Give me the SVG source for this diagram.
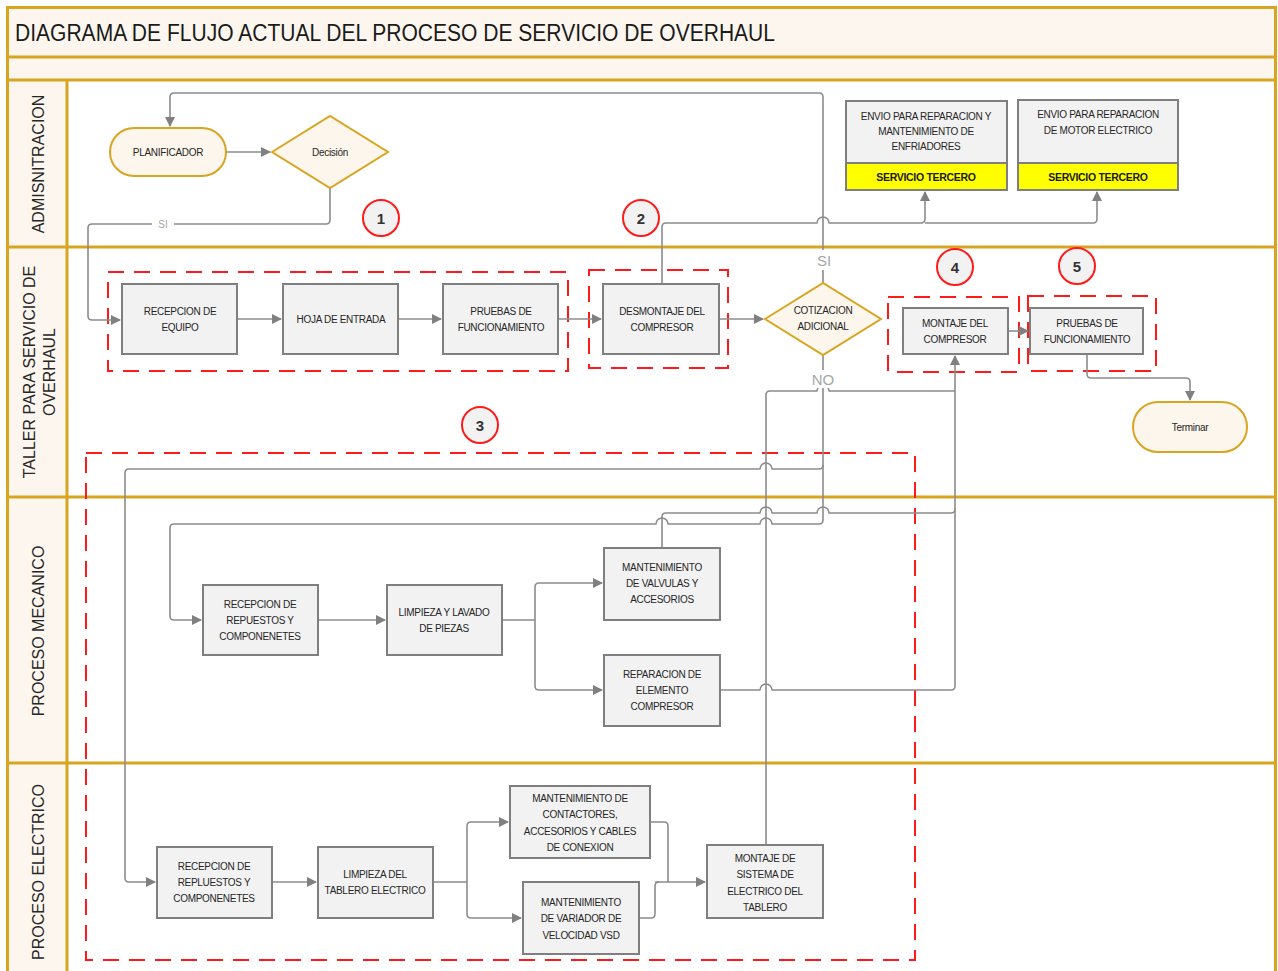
<svg xmlns="http://www.w3.org/2000/svg" width="1278" height="971" viewBox="0 0 1278 971">
<defs>
<marker id="ah" markerUnits="userSpaceOnUse" markerWidth="10" markerHeight="10" viewBox="0 0 10 10" refX="9" refY="5" orient="auto"><path d="M0,0 L10,5 L0,10 z" fill="#808080"/></marker>
</defs>
<style>
.lane{stroke:#d8a520;stroke-width:3;fill:none}
.band{fill:#fdf6ee}
.proc{fill:#f2f2f2;stroke:#7f7f7f;stroke-width:2}
.term{fill:#fdf6ec;stroke:#d8a520;stroke-width:2}
.dec{fill:#fdf6ec;stroke:#d8a520;stroke-width:2}
.dash{fill:none;stroke:#ff1a1a;stroke-width:2;stroke-dasharray:16 10}
.con{fill:none;stroke:#8c8c8c;stroke-width:1.6;stroke-linejoin:round}
.arr{marker-end:url(#ah)}
.t{font-family:"Liberation Sans",Arial,sans-serif;font-size:10px;fill:#262626;text-anchor:middle;letter-spacing:-0.3px}
.lt{font-family:"Liberation Sans",Arial,sans-serif;font-size:16px;fill:#262626;text-anchor:middle}
.num{font-family:"Liberation Sans",Arial,sans-serif;font-size:15px;font-weight:bold;fill:#333;text-anchor:middle}
.cir{fill:#f2f2f2;stroke:#ff1a1a;stroke-width:2}
.lbl{font-family:"Liberation Sans",Arial,sans-serif;font-size:15px;fill:#a6a6a6;text-anchor:middle}
.yel{fill:#ffff00;stroke:#7f7f7f;stroke-width:2}
.bt{font-family:"Liberation Sans",Arial,sans-serif;font-size:10.5px;font-weight:bold;fill:#1a1a1a;text-anchor:middle;letter-spacing:-0.3px}
</style>

<g id="frame">
<rect x="7" y="7" width="1269" height="73" class="band"/>
<rect x="7" y="80" width="60" height="891" class="band"/>
<rect x="7.5" y="7.5" width="1268" height="970" class="lane"/>
<line x1="7" y1="57" x2="1276" y2="57" class="lane"/>
<line x1="7" y1="80" x2="1276" y2="80" class="lane"/>
<line x1="7" y1="247" x2="1276" y2="247" class="lane"/>
<line x1="7" y1="497" x2="1276" y2="497" class="lane"/>
<line x1="7" y1="763" x2="1276" y2="763" class="lane"/>
<line x1="67" y1="80" x2="67" y2="971" class="lane"/>
<text x="15" y="41" font-family="'Liberation Sans',Arial,sans-serif" font-size="23" fill="#1a1a1a" textLength="760" lengthAdjust="spacingAndGlyphs">DIAGRAMA DE FLUJO ACTUAL DEL PROCESO DE SERVICIO DE OVERHAUL</text>
<text class="lt" transform="translate(44,164) rotate(-90)">ADMISNITRACION</text>
<text class="lt" transform="translate(35,372) rotate(-90)">TALLER PARA SERVICIO DE</text>
<text class="lt" transform="translate(55,372) rotate(-90)">OVERHAUL</text>
<text class="lt" transform="translate(44,631) rotate(-90)">PROCESO MECANICO</text>
<text class="lt" transform="translate(44,872) rotate(-90)">PROCESO ELECTRICO</text>
</g>

<g id="groups">
<rect x="108" y="272" width="460" height="99" class="dash"/>
<rect x="589" y="270" width="139" height="98" class="dash"/>
<rect x="888" y="297" width="131" height="75" class="dash"/>
<rect x="1028" y="296" width="128" height="75" class="dash"/>
<rect x="86" y="453" width="829" height="507" class="dash"/>
</g>

<g id="connectors">
<path class="con arr" d="M226,152 H270"/>
<path class="con arr" d="M330,188 V220 Q330,224 326,224 H92 Q88,224 88,228 V316 Q88,320 92,320 H120"/>
<path class="con arr" d="M237,319 H281"/>
<path class="con arr" d="M398,319 H441"/>
<path class="con arr" d="M558,319 H601"/>
<path class="con arr" d="M719,319 H763"/>
<path class="con arr" d="M823,283 V97 Q823,93 819,93 H174 Q170,93 170,97 V126"/>
<path class="con arr" d="M662,284 V227 Q662,223 666,223 H817 A6,6 0 0 1 829,223 H921 Q925,223 925,219 V192"/>
<path class="con arr" d="M925,223 H1093 Q1097,223 1097,219 V192"/>
<path class="con arr" d="M1008,331 H1028"/>
<path class="con arr" d="M1087,354 V374 Q1087,378 1091,378 H1186 Q1190,378 1190,382 V400"/>
<path class="con" d="M823,355 V520 Q823,524 819,524 H772 A6,6 0 0 0 760,524 H668 A6,6 0 0 0 656,524 H174 Q170,524 170,528 V616 Q170,620 174,620 H201" marker-end="url(#ah)"/>
<path class="con arr" d="M823,465 Q823,469 819,469 H772 A6,6 0 0 0 760,469 H129 Q125,469 125,473 V878 Q125,882 129,882 H155"/>
<path class="con" d="M662,548 V517 Q662,513 666,513 H760 A6,6 0 0 1 772,513 H817 A6,6 0 0 1 829,513 H951 Q955,513 955,509"/>
<path class="con arr" d="M720,690 H760 A6,6 0 0 1 772,690 H951 Q955,690 955,686 V356"/>
<path class="con" d="M766,845 V395 Q766,391 770,391 H817 A6,6 0 0 1 829,391 H955"/>
<path class="con arr" d="M318,620 H385"/>
<path class="con arr" d="M502,620 H535 V587 Q535,583 539,583 H602"/>
<path class="con arr" d="M535,620 V686 Q535,690 539,690 H602"/>
<path class="con arr" d="M272,882 H316"/>
<path class="con arr" d="M433,882 H467 V826 Q467,822 471,822 H508"/>
<path class="con arr" d="M467,882 V914 Q467,918 471,918 H521"/>
<path class="con" d="M650,822 H664 Q668,822 668,826 V882"/>
<path class="con" d="M639,918 H651 Q655,918 655,914 V886 Q655,882 659,882"/>
<path class="con arr" d="M655,882 H705"/>
<rect x="152" y="217" width="22" height="14" fill="#ffffff"/>
<text x="163" y="228" class="lbl" font-size="10" style="font-size:10px">SI</text>
<rect x="811" y="250" width="24" height="20" fill="#ffffff"/>
<text x="824" y="266" class="lbl">SI</text>
<rect x="809" y="370" width="28" height="18" fill="#ffffff"/>
<text x="823" y="385" class="lbl">NO</text>
</g>

<g id="n_planificador">
<rect x="110" y="128" width="116" height="48" rx="24" class="term"/>
<text x="168" y="155.5" class="t">PLANIFICADOR</text>
</g>
<g id="n_decision">
<polygon points="272,152 330,116 388,152 330,188" class="dec"/>
<text x="330" y="155.5" class="t">Decisión</text>
</g>
<g id="n_envio1">
<rect x="846" y="101" width="161" height="62" class="proc"/>
<rect x="846" y="163" width="161" height="27" class="yel"/>
<text x="926" y="120" class="t">ENVIO PARA REPARACION Y</text>
<text x="926" y="135" class="t">MANTENIMIENTO DE</text>
<text x="926" y="150" class="t">ENFRIADORES</text>
<text x="926" y="181" class="bt">SERVICIO TERCERO</text>
</g>
<g id="n_envio2">
<rect x="1018" y="100" width="160" height="63" class="proc"/>
<rect x="1018" y="163" width="160" height="27" class="yel"/>
<text x="1098" y="118" class="t">ENVIO PARA REPARACION</text>
<text x="1098" y="134" class="t">DE MOTOR ELECTRICO</text>
<text x="1098" y="181" class="bt">SERVICIO TERCERO</text>
</g>
<g id="c1"><circle cx="381" cy="218" r="18" class="cir"/><text x="381" y="223.5" class="num">1</text></g>
<g id="c2"><circle cx="641" cy="218" r="18" class="cir"/><text x="641" y="223.5" class="num">2</text></g>
<g id="c3"><circle cx="480" cy="425" r="18" class="cir"/><text x="480" y="430.5" class="num">3</text></g>
<g id="c4"><circle cx="955" cy="267" r="18" class="cir"/><text x="955" y="272.5" class="num">4</text></g>
<g id="c5"><circle cx="1077" cy="266" r="18" class="cir"/><text x="1077" y="271.5" class="num">5</text></g>

<g id="n_recepcion_equipo">
<rect x="122" y="284" width="115" height="70" class="proc"/>
<text x="180" y="315" class="t">RECEPCION DE</text>
<text x="180" y="331" class="t">EQUIPO</text>
</g>
<g id="n_hoja">
<rect x="283" y="284" width="115" height="70" class="proc"/>
<text x="341" y="322.5" class="t">HOJA DE ENTRADA</text>
</g>
<g id="n_pruebas1">
<rect x="443" y="284" width="115" height="70" class="proc"/>
<text x="501" y="315" class="t">PRUEBAS DE</text>
<text x="501" y="331" class="t">FUNCIONAMIENTO</text>
</g>
<g id="n_desmontaje">
<rect x="603" y="284" width="116" height="70" class="proc"/>
<text x="662" y="315" class="t">DESMONTAJE DEL</text>
<text x="662" y="331" class="t">COMPRESOR</text>
</g>
<g id="n_cotizacion">
<polygon points="765,319 823,283 881,319 823,355" class="dec"/>
<text x="823" y="314" class="t">COTIZACION</text>
<text x="823" y="330" class="t">ADICIONAL</text>
</g>
<g id="n_montaje">
<rect x="903" y="308" width="105" height="46" class="proc"/>
<text x="955" y="327" class="t">MONTAJE DEL</text>
<text x="955" y="343" class="t">COMPRESOR</text>
</g>
<g id="n_pruebas2">
<rect x="1030" y="308" width="113" height="46" class="proc"/>
<text x="1087" y="327" class="t">PRUEBAS DE</text>
<text x="1087" y="343" class="t">FUNCIONAMIENTO</text>
</g>
<g id="n_terminar">
<rect x="1133" y="402" width="114" height="50" rx="25" class="term"/>
<text x="1190" y="430.5" class="t">Terminar</text>
</g>

<g id="n_rec_mec">
<rect x="203" y="585" width="115" height="70" class="proc"/>
<text x="260" y="608" class="t">RECEPCION DE</text>
<text x="260" y="624" class="t">REPUESTOS Y</text>
<text x="260" y="640" class="t">COMPONENETES</text>
</g>
<g id="n_limpieza">
<rect x="387" y="585" width="115" height="70" class="proc"/>
<text x="444" y="616" class="t">LIMPIEZA Y LAVADO</text>
<text x="444" y="632" class="t">DE PIEZAS</text>
</g>
<g id="n_valvulas">
<rect x="604" y="548" width="116" height="72" class="proc"/>
<text x="662" y="571" class="t">MANTENIMIENTO</text>
<text x="662" y="587" class="t">DE VALVULAS Y</text>
<text x="662" y="603" class="t">ACCESORIOS</text>
</g>
<g id="n_reparacion">
<rect x="604" y="655" width="116" height="71" class="proc"/>
<text x="662" y="678" class="t">REPARACION DE</text>
<text x="662" y="694" class="t">ELEMENTO</text>
<text x="662" y="710" class="t">COMPRESOR</text>
</g>

<g id="n_rec_ele">
<rect x="157" y="847" width="115" height="71" class="proc"/>
<text x="214" y="870" class="t">RECEPCION DE</text>
<text x="214" y="886" class="t">REPLUESTOS Y</text>
<text x="214" y="902" class="t">COMPONENETES</text>
</g>
<g id="n_limp_tablero">
<rect x="318" y="847" width="115" height="71" class="proc"/>
<text x="375" y="878" class="t">LIMPIEZA DEL</text>
<text x="375" y="894" class="t">TABLERO ELECTRICO</text>
</g>
<g id="n_contactores">
<rect x="510" y="786" width="140" height="72" class="proc"/>
<text x="580" y="802" class="t">MANTENIMIENTO DE</text>
<text x="580" y="818" class="t">CONTACTORES,</text>
<text x="580" y="835" class="t">ACCESORIOS Y CABLES</text>
<text x="580" y="851" class="t">DE CONEXION</text>
</g>
<g id="n_vsd">
<rect x="523" y="882" width="116" height="72" class="proc"/>
<text x="581" y="906" class="t">MANTENIMIENTO</text>
<text x="581" y="922" class="t">DE VARIADOR DE</text>
<text x="581" y="939" class="t">VELOCIDAD VSD</text>
</g>
<g id="n_montaje_ele">
<rect x="707" y="845" width="116" height="73" class="proc"/>
<text x="765" y="862" class="t">MONTAJE DE</text>
<text x="765" y="878" class="t">SISTEMA DE</text>
<text x="765" y="895" class="t">ELECTRICO DEL</text>
<text x="765" y="911" class="t">TABLERO</text>
</g>
</svg>
